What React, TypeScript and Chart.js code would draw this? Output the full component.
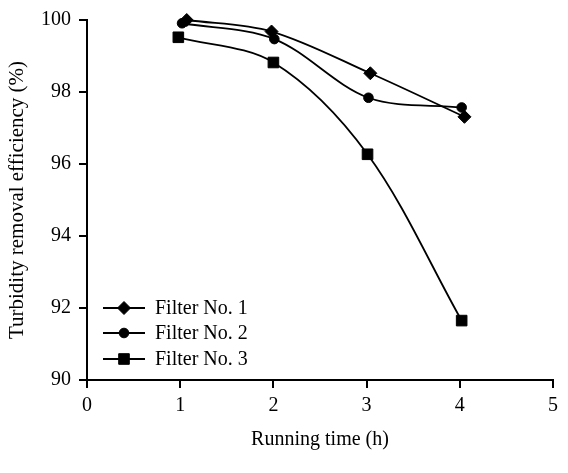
import React, { useEffect, useRef } from 'react';
import { Chart, registerables } from 'chart.js';
import { drawPoint } from 'chart.js/helpers';

Chart.register(...registerables);

const seriesNames = ['Filter No. 1', 'Filter No. 2', 'Filter No. 3'];
const filter1X = [1.07, 1.98, 3.04, 4.05];
const filter1Y = [100.0, 99.68, 98.52, 97.31];
const filter2X = [1.02, 2.01, 3.02, 4.02];
const filter2Y = [99.91, 99.47, 97.84, 97.57];
const filter3X = [0.98, 2.0, 3.01, 4.02];
const filter3Y = [99.52, 98.82, 96.27, 91.65];
const pointStyles = ['rectRot', 'circle', 'rect'];
const pointRadii = [6.5, 4.8, 7.5];
const xTickValues = [0, 1, 2, 3, 4, 5];
const yTickValues = [90, 92, 94, 96, 98, 100];
const xTitle = 'Running time (h)';
const yTitle = 'Turbidity removal efficiency (%)';

const FONT = "'Liberation Serif', 'Times New Roman', serif";

const legendPlugin = {
  id: 'customLegend',
  afterDraw(chart: any) {
    const ctx = chart.ctx;
    const rows = [308, 333, 359];
    ctx.save();
    chart.data.datasets.forEach((ds: any, i: number) => {
      const y = rows[i];
      ctx.strokeStyle = '#000';
      ctx.lineWidth = 2;
      ctx.beginPath();
      ctx.moveTo(103, y);
      ctx.lineTo(145, y);
      ctx.stroke();
      ctx.fillStyle = '#000';
      ctx.strokeStyle = '#000';
      ctx.lineWidth = 1;
      drawPoint(ctx, { pointStyle: ds.pointStyle, radius: ds.pointRadius, rotation: 0, borderWidth: 1 }, 124, y);
      ctx.fillStyle = '#000';
      ctx.font = `20px ${FONT}`;
      ctx.textAlign = 'left';
      ctx.textBaseline = 'middle';
      ctx.fillText(ds.label, 155, y + 1);
    });
    ctx.restore();
  },
};

export default function App() {
  const ref = useRef<HTMLCanvasElement>(null);
  useEffect(() => {
    if (!ref.current) return;
    const xs = [filter1X, filter2X, filter3X];
    const ys = [filter1Y, filter2Y, filter3Y];
    const chart = new Chart(ref.current, {
      type: 'line',
      data: {
        datasets: seriesNames.map((name, i) => ({
          label: name,
          data: xs[i].map((x, j) => ({ x, y: ys[i][j] })),
          borderColor: '#000',
          backgroundColor: '#000',
          borderWidth: 1.8,
          pointStyle: pointStyles[i] as any,
          pointRadius: pointRadii[i],
          pointBorderWidth: 1,
          pointBackgroundColor: '#000',
          pointBorderColor: '#000',
          tension: 0.33,
          fill: false,
          clip: false as any,
        })),
      },
      options: {
        animation: false,
        responsive: false,
        devicePixelRatio: 1,
        layout: { padding: { left: 0, top: 20, right: 15, bottom: 0 } },
        plugins: { legend: { display: false }, tooltip: { enabled: false } },
        scales: {
          x: {
            type: 'linear',
            min: 0,
            max: 5,
            afterBuildTicks: (s: any) => { s.ticks = xTickValues.map((v) => ({ value: v })); },
            afterFit: (s: any) => { s.height = 93; },
            grid: { display: true, drawOnChartArea: false, drawTicks: true, tickLength: 8, color: '#000', lineWidth: 2 },
            border: { display: true, color: '#000', width: 2 },
            ticks: { color: '#000', font: { family: FONT, size: 20 }, padding: 6, maxRotation: 0 },
            title: { display: true, text: xTitle, color: '#000', font: { family: FONT, size: 20 }, padding: { top: 0, bottom: 21 } },
          },
          y: {
            type: 'linear',
            min: 90,
            max: 100,
            afterBuildTicks: (s: any) => { s.ticks = yTickValues.map((v) => ({ value: v })); },
            afterFit: (s: any) => { s.width = 87; },
            grid: { display: true, drawOnChartArea: false, drawTicks: true, tickLength: 8, color: '#000', lineWidth: 2 },
            border: { display: true, color: '#000', width: 2 },
            ticks: { color: '#000', font: { family: FONT, size: 20 }, padding: 8 },
            title: { display: true, text: yTitle, color: '#000', font: { family: FONT, size: 21 }, padding: { top: 5, bottom: 0 } },
          },
        },
      },
      plugins: [legendPlugin],
    });
    return () => chart.destroy();
  }, []);
  return (
    <div style={{ position: 'fixed', left: 0, top: 0, width: 568, height: 473, background: '#fff' }}>
      <canvas ref={ref} width={568} height={473} style={{ display: 'block' }} />
    </div>
  );
}
